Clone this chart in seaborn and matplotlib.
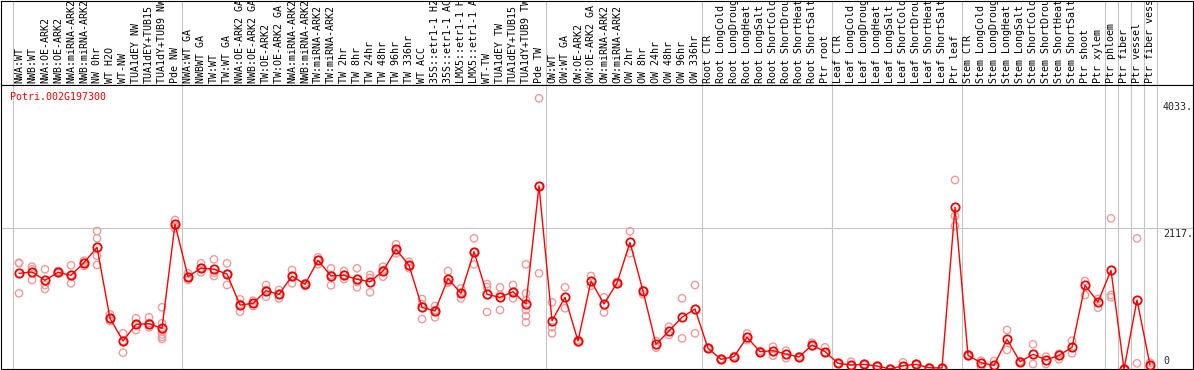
import numpy as np
import pandas as pd
import seaborn as sns
import matplotlib.pyplot as plt
from matplotlib import transforms

# sample labels, as drawn (long ones are cut at the top of the header)
samples = [
    "NWA:WT", "NWB:WT", "NWA:OE-ARK2", "NWB:OE-ARK2", "NWA:miRNA-ARK2",
    "NWB:miRNA-ARK2", "NW 0hr", "WT H2O", "WT-NW", "TUA1dEY NW",
    "TUA1dEY+TUB15", "TUA1dY+TUB9 NW", "Pde NW",
    "NWA:WT GA", "NWBWT GA", "TW:WT", "TW:WT GA", "NWA:OE-ARK2 GA",
    "NWB:OE-ARK2 GA", "TW:OE-ARK2", "TW:OE-ARK2 GA", "NWA:miRNA-ARK2",
    "NWB:miRNA-ARK2", "TW:miRNA-ARK2", "TW:miRNA-ARK2", "TW 2hr", "TW 8hr",
    "TW 24hr", "TW 48hr", "TW 96hr", "TW 336hr", "WT ACC", "35S::etr1-1 H2",
    "35S::etr1-1 AC", "LMX5::etr1-1 H", "LMX5::etr1-1 A", "WT-TW",
    "TUA1dEY TW", "TUA1dEY+TUB15", "TUA1dY+TUB9 TW", "Pde TW",
    "OW:WT", "OW:WT GA", "OW:OE-ARK2", "OW:OE-ARK2 GA", "OW:miRNA-ARK2",
    "OW:miRNA-ARK2", "OW 2hr", "OW 8hr", "OW 24hr", "OW 48hr", "OW 96hr",
    "OW 336hr",
    "Root CTR", "Root LongCold", "Root LongDroug", "Root LongHeat",
    "Root LongSalt", "Root ShortCold", "Root ShortDrou", "Root ShortHeat",
    "Root ShortSalt", "Ptr root",
    "Leaf CTR", "Leaf LongCold", "Leaf LongDroug", "Leaf LongHeat",
    "Leaf LongSalt", "Leaf ShortCold", "Leaf ShortDrou", "Leaf ShortHeat",
    "Leaf ShortSalt", "Ptr leaf",
    "Stem CTR", "Stem LongCold", "Stem LongDroug", "Stem LongHeat",
    "Stem LongSalt", "Stem ShortCold", "Stem ShortDrou", "Stem ShortHeat",
    "Stem ShortSalt", "Ptr shoot", "Ptr xylem",
    "Ptr phloem", "Ptr fiber", "Ptr vessel", "Ptr fiber vess",
]
group_sizes = [13, 28, 12, 10, 10, 11, 1, 1, 1, 1]

mean_expr = [
    1447, 1467, 1344, 1462, 1418, 1604, 1831, 783, 448, 694, 703, 635, 2171,
    1397, 1526, 1507, 1437, 979, 1004, 1190, 1137, 1408, 1285, 1639, 1408,
    1418, 1359, 1323, 1481, 1802, 1566, 945, 891, 1368, 1152, 1767, 1137,
    1093, 1176, 994, 2741,
    747, 1093, 448, 1334, 994, 1304, 1905, 1186, 399, 595, 798, 920,
    340, 177, 216, 502, 290, 304, 256, 211, 388, 290,
    118, 93, 103, 78, 34, 83, 103, 53, 49, 2422,
    236, 127, 88, 473, 142, 251, 167, 236, 354, 1270, 1024,
    1492, 30, 1053, 93,
]

replicates = [
    [1604, 1595, 1152], [1545, 1507, 1349], [1507, 1275, 1216], [1481, 1452, 1462],
    [1566, 1422, 1300], [1634, 1600, 1555], [2072, 1964, 1707, 1570], [842, 743, 772],
    [561, 275, 448], [783, 610, 699], [798, 650, 713],
    [945, 709, 585, 544, 507, 477], [2235, 2112, 2146],
    [1447, 1349, 1393], [1595, 1462, 1526], [1654, 1408, 1456], [1595, 1275, 1437],
    [1063, 880, 994], [1043, 964, 1004], [1275, 1102, 1201], [1201, 1078, 1137],
    [1496, 1300, 1408], [1300, 1260, 1289], [1684, 1580, 1644], [1521, 1270, 1422],
    [1481, 1363, 1422], [1521, 1241, 1319], [1422, 1167, 1378], [1545, 1397, 1496],
    [1876, 1743, 1792], [1619, 1521, 1555], [1068, 994, 772], [964, 798, 905],
    [1481, 1309, 1319], [1226, 1078, 1156], [1964, 1580, 1762], [1289, 876, 1245],
    [1241, 905, 1127], [1275, 1078, 1171], [1580, 1152, 905, 817, 724, 1053],
    [4033, 1447, 2737],
    [1019, 650, 561], [1241, 931], [462, 428], [1408, 1264], [1093, 871],
    [1323, 1289], [2068, 1743], [1201, 1137], [448, 349], [659, 536],
    [1078, 487], [1275, 561],
    [330, 350], [170, 185], [210, 225], [561, 462], [300, 280], [363, 230],
    [304, 192], [220, 200], [422, 370], [354, 280],
    [125, 110], [142, 85], [110, 95], [85, 70], [40, 30], [133, 75], [110, 95],
    [60, 45], [55, 40], [2826, 2294, 2146],
    [250, 225], [157, 68], [152, 60], [610, 315], [150, 135], [399, 108],
    [216, 108], [177, 260], [452, 266], [1334, 1127], [1068, 939],
    [2260, 1093, 1127], [35, 25], [1964, 118], [127, 70],
]

gene_id = "Potri.002G197300"
max_label, mid_label = 4033, 2117

mean_df = pd.DataFrame({"pos": np.arange(len(samples)), "value": mean_expr})
rep_df = pd.DataFrame(
    [(i, v) for i, reps in enumerate(replicates) for v in reps],
    columns=["pos", "value"],
)

sns.set_theme(style="white")
plt.rcParams["font.family"] = ["DejaVu Sans Mono", "DejaVu Sans"]
plt.rcParams["axes.linewidth"] = 0.8

W, H = 1194, 370
fig = plt.figure(figsize=(W / 100, H / 100), dpi=100)


def box(x0, y0, x1, y1):
    # pixel box (top-left origin) -> figure fraction
    return [x0 / W, 1 - y1 / H, (x1 - x0) / W, (y1 - y0) / H]


ax_head = fig.add_axes(box(1, 0.5, 1193, 85))
ax = fig.add_axes(box(1, 85, 1193, 369))

# 13 px per sample, first sample centred at px 19
xlim = ((1 - 19) / 13, (1193 - 19) / 13)
for a in (ax, ax_head):
    a.set_xlim(*xlim)
    a.set_xticks([])
    a.set_yticks([])
    for s in a.spines.values():
        s.set_color("black")
        s.set_linewidth(0.8)
ax_head.set_ylim(0, 1)
ax.set_ylim(34, 4229)

bounds = np.concatenate([[0], np.cumsum(group_sizes)]) - 0.5
for a in (ax, ax_head):
    for b in bounds:
        a.axvline(b, color="#c4c4c4", lw=0.8, zorder=0)
ax.axhline(mid_label, color="#c4c4c4", lw=0.8, zorder=0)

sns.scatterplot(data=rep_df, x="pos", y="value", ax=ax, marker="o", s=28,
                color="#f09a9a", facecolor="none", edgecolor="#f09a9a",
                linewidth=1.0, zorder=2, legend=False)
sns.lineplot(data=mean_df, x="pos", y="value", ax=ax, color="#ff0000",
             lw=1.0, marker="o", ms=6, mfc="none", mec="#ee0000", mew=1.3,
             zorder=3, legend=False)
ax.set_xlabel("")
ax.set_ylabel("")

trans_head = transforms.blended_transform_factory(ax_head.transData, ax_head.transAxes)
for i, lab in enumerate(samples):
    ax_head.text(i, 0.025, lab, rotation=90, ha="center", va="bottom",
                 fontsize=7.2, color="black", transform=trans_head, clip_on=True)

ax.annotate(gene_id, xy=(0, 1), xycoords="axes fraction", xytext=(9, -12),
            textcoords="offset pixels", ha="left", va="center",
            fontsize=7.2, color="#ff0000")

trans_r = transforms.blended_transform_factory(ax.transAxes, ax.transData)
xr = (1163 - 1) / (1193 - 1)
ax.annotate(f"{max_label}.", xy=(xr, max_label), xycoords=trans_r, xytext=(0, -4),
            textcoords="offset pixels", ha="left", va="top", fontsize=7.2)
ax.annotate(f"{mid_label}.", xy=(xr, mid_label), xycoords=trans_r, xytext=(0, -1),
            textcoords="offset pixels", ha="left", va="top", fontsize=7.2)
ax.annotate("0", xy=(xr, 0), xycoords="axes fraction", xytext=(0, 3),
            textcoords="offset pixels", ha="left", va="bottom", fontsize=7.2)

fig.savefig("out.png", dpi=100)
